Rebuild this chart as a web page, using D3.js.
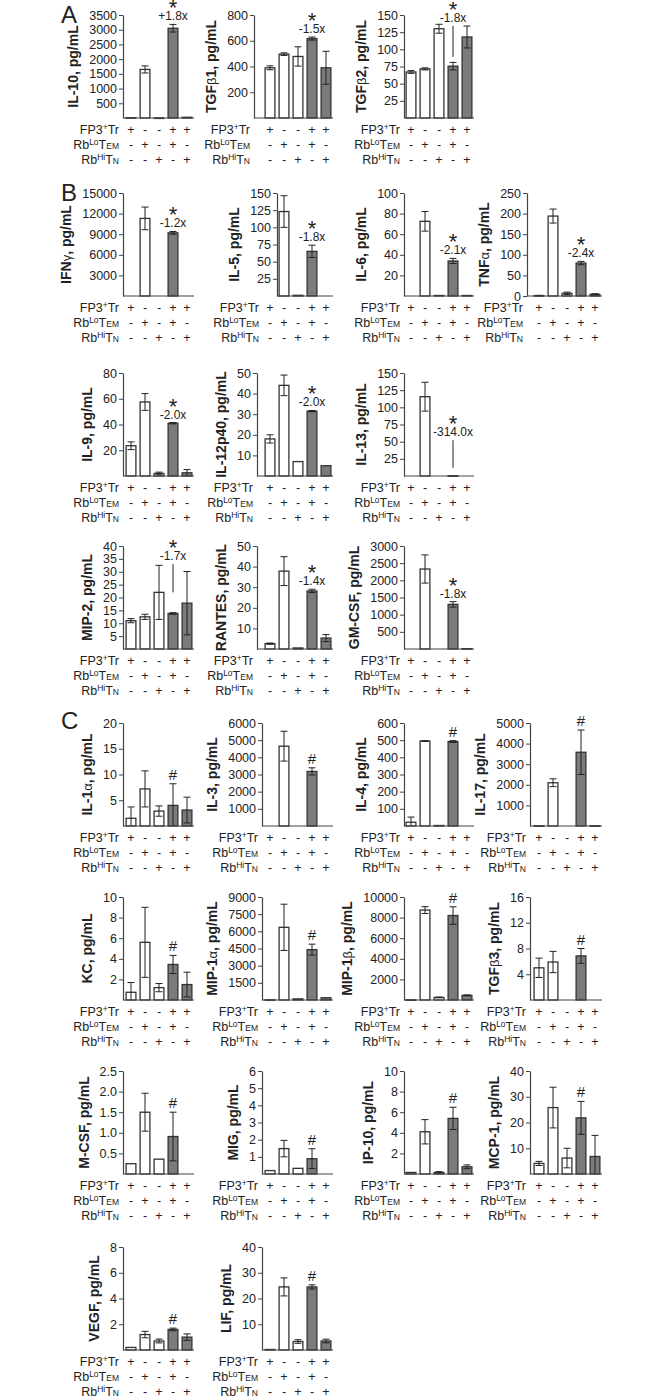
<!DOCTYPE html>
<html>
<head>
<meta charset="utf-8">
<script src="https://cdn.jsdelivr.net/npm/d3@7"></script>
<style>
  body { margin: 0; background: #fff; }
  svg { font-family: "Liberation Sans", Arial, sans-serif; }
</style>
</head>
<body>
<div id="chart"></div>
<script>
// ---- data ----
const analytes = ["IL-10", "TGFβ1", "TGFβ2",
  "IFNγ", "IL-5", "IL-6", "TNFα",
  "IL-9", "IL-12p40", "IL-13",
  "MIP-2", "RANTES", "GM-CSF",
  "IL-1α", "IL-3", "IL-4", "IL-17",
  "KC", "MIP-1α", "MIP-1β", "TGFβ3",
  "M-CSF", "MIG", "IP-10", "MCP-1",
  "VEGF", "LIF"];

const yMax = [3500, 800, 150, 15000, 150, 100, 250, 80, 50, 150, 40, 50, 3000,
  20, 6000, 600, 5000, 10, 9000, 10000, 16, 2.5, 6, 10, 40, 8, 40];

const yTicks = [
  [500, 1000, 1500, 2000, 2500, 3000, 3500],
  [200, 400, 600, 800],
  [25, 50, 75, 100, 125, 150],
  [3000, 6000, 9000, 12000, 15000],
  [25, 50, 75, 100, 125, 150],
  [20, 40, 60, 80, 100],
  [0, 50, 100, 150, 200, 250],
  [20, 40, 60, 80],
  [10, 20, 30, 40, 50],
  [25, 50, 75, 100, 125, 150],
  [5, 10, 15, 20, 25, 30, 35, 40],
  [10, 20, 30, 40, 50],
  [500, 1000, 1500, 2000, 2500, 3000],
  [5, 10, 15, 20],
  [1000, 2000, 3000, 4000, 5000, 6000],
  [100, 200, 300, 400, 500, 600],
  [1000, 2000, 3000, 4000, 5000],
  [2, 4, 6, 8, 10],
  [1500, 3000, 4500, 6000, 7500, 9000],
  [2000, 4000, 6000, 8000, 10000],
  [4, 8, 12, 16],
  [0.5, 1, 1.5, 2, 2.5],
  [1, 2, 3, 4, 5, 6],
  [2, 4, 6, 8, 10],
  [10, 20, 30, 40],
  [2, 4, 6, 8],
  [10, 20, 30, 40]
];

// five groups per panel
const means = [
  [10, 1650, 2, 3050, 25],
  [390, 496, 478, 617, 390],
  [67, 71.5, 130, 75.5, 118],
  [0, 11300, 0, 9200, 0],
  [0, 123, 1, 65, 0],
  [0, 72.5, 0.5, 34, 0.5],
  [1, 194, 6.5, 80, 4],
  [23.5, 57.5, 2, 41, 2.5],
  [18, 44, 7, 31.5, 5],
  [0, 115.5, 0, 0.37, 0],
  [11, 12.5, 22, 13.8, 17.8],
  [2.6, 37.8, 0.5, 28.2, 5.3],
  [0, 2330, 0, 1300, 10],
  [1.5, 7.2, 2.9, 4, 3.1],
  [0, 4650, 0, 3180, 0],
  [22, 495, 3, 492, 0],
  [10, 2100, 0, 3580, 10],
  [0.75, 5.6, 1.2, 3.45, 1.5],
  [20, 6350, 100, 4400, 200],
  [20, 8730, 250, 8200, 450],
  [5.0, 5.9, 0, 6.85, 0],
  [0.25, 1.5, 0.36, 0.91, 0],
  [0.2, 1.48, 0.33, 0.89, 0],
  [0.15, 4.1, 0.15, 5.4, 0.7],
  [4.1, 25.8, 6.2, 21.8, 6.8],
  [0.2, 1.2, 0.7, 1.6, 1.0],
  [0.2, 24.5, 3.3, 24.5, 3.5]
];

const errors = [
  [null, 120, null, 130, null],
  [15, 10, 75, 12, 128],
  [2, 1.5, 6.5, 5.5, 16],
  [null, 1650, null, 200, null],
  [null, 23, null, 9, null],
  [null, 9.5, null, 2.5, null],
  [0.5, 17, 3, 4, 1.5],
  [3, 6.5, 1, 0.5, 2.5],
  [2, 5, null, 0.3, null],
  [null, 21, null, null, null],
  [0.8, 1, 10.5, 0.3, 12.3],
  [0.3, 7, null, 0.8, 1.7],
  [null, 410, null, 80, null],
  [2.2, 3.5, 1, 4.2, 2.5],
  [null, 870, null, 210, null],
  [30, 2, null, 5, null],
  [null, 190, null, 1080, null],
  [0.95, 3.4, 0.4, 0.88, 1.2],
  [null, 2020, null, 480, null],
  [null, 330, 30, 850, 40],
  [1.5, 1.65, null, 1.15, null],
  [null, 0.46, null, 0.59, null],
  [null, 0.48, null, 0.58, null],
  [null, 1.18, 0.08, 1.08, 0.18],
  [0.8, 7.9, 3.8, 6.4, 8.2],
  [null, 0.25, 0.15, 0.1, 0.25],
  [null, 3.5, 0.7, 0.8, 0.7]
];

const signif = ["*", "*", "*", "*", "*", "*", "*", "*", "*", "*", "*", "*", "*",
  "#", "#", "#", "#", "#", "#", "#", "#", "#", "#", "#", "#", "#", "#"];
const folds = ["+1.8x", "-1.5x", "-1.8x", "-1.2x", "-1.8x", "-2.1x", "-2.4x",
  "-2.0x", "-2.0x", "-314.0x", "-1.7x", "-1.4x", "-1.8x"];
// [analyte, value where fold text sits, value where leader line ends]
const leaders = [["TGFβ2", 140, 89], ["IL-13", 58, 12], ["MIP-2", 34.5, 22]];

const conditionNames = ["FP3+Tr", "RbLoTEM", "RbHiTN"];
const conditions = [
  ["+", "-", "-", "+", "+"],
  ["-", "+", "-", "+", "-"],
  ["-", "-", "+", "-", "+"]
];
const panelLetters = [["A", 0], ["B", 1], ["C", 4]];

// ---- layout ----
const rowTop = [15, 193, 373, 546, 723, 897, 1071, 1247];
const plotH = 103;
const colStart = [124, 263, 404, 532];
const axisDefault = [123, 262, 404, 530];
const axisOverride = { "TGFβ1": 254, "IL-5": 277, "TNFα": 527, "IL-12p40": 257, "RANTES": 257 };
const gridPos = [[0, 0], [0, 1], [0, 2],
  [1, 0], [1, 1], [1, 2], [1, 3],
  [2, 0], [2, 1], [2, 2],
  [3, 0], [3, 1], [3, 2],
  [4, 0], [4, 1], [4, 2], [4, 3],
  [5, 0], [5, 1], [5, 2], [5, 3],
  [6, 0], [6, 1], [6, 2], [6, 3],
  [7, 0], [7, 1]];

const ink = "#222";
const axisColor = "#444";
const barFill = ["#fff", "#fff", "#fff", "#7b7b7b", "#7b7b7b"];

const svg = d3.select("#chart").append("svg")
  .attr("width", 663)
  .attr("height", 1400);

panelLetters.forEach(([letter, r]) => {
  svg.append("text")
    .attr("x", 61)
    .attr("y", rowTop[r] + (r === 4 ? 6 : 8))
    .attr("font-size", 24)
    .attr("fill", ink)
    .text(letter);
});

function addGreekLabel(sel, str) {
  str.split(/([αβγ])/).filter((s) => s).forEach((part) => {
    const t = sel.append("tspan").text(part);
    if (/[αβγ]/.test(part)) {
      t.attr("font-weight", "normal").attr("font-size", 13);
    }
  });
}

analytes.forEach((name, i) => {
  const [r, c] = gridPos[i];
  const top = rowTop[r];
  const base = top + plotH;
  const x0 = colStart[c];
  const ax = axisOverride[name] !== undefined ? axisOverride[name] : axisDefault[c];

  const x = d3.scaleBand()
    .domain(d3.range(5))
    .range([x0, x0 + 70])
    .paddingInner(0.3)
    .paddingOuter(0.15);
  const y = d3.scaleLinear().domain([0, yMax[i]]).range([base, top]);

  const g = svg.append("g");

  // bars
  means[i].forEach((v, j) => {
    if (v <= 0) return;
    g.append("rect")
      .attr("x", x(j))
      .attr("y", y(v))
      .attr("width", x.bandwidth())
      .attr("height", Math.max(base - y(v), 0.5))
      .attr("fill", barFill[j])
      .attr("stroke", "#333")
      .attr("stroke-width", 1.3);
  });

  // error bars
  means[i].forEach((v, j) => {
    const e = errors[i][j];
    if (e == null) return;
    const cx = x(j) + x.bandwidth() / 2;
    const lo = Math.max(0, v - e);
    const hi = v + e;
    g.append("line")
      .attr("x1", cx).attr("x2", cx)
      .attr("y1", y(lo)).attr("y2", y(hi))
      .attr("stroke", ink).attr("stroke-width", 1);
    [hi, lo].forEach((w) => {
      if (w <= 0) return;
      g.append("line")
        .attr("x1", cx - 3.5).attr("x2", cx + 3.5)
        .attr("y1", y(w)).attr("y2", y(w))
        .attr("stroke", ink).attr("stroke-width", 1);
    });
  });

  // x axis line
  g.append("line")
    .attr("x1", ax).attr("x2", x0 + 70)
    .attr("y1", base).attr("y2", base)
    .attr("stroke", axisColor).attr("stroke-width", 1.2);

  // y axis
  const decimal = yTicks[i].some((t) => !Number.isInteger(t));
  const yAxis = d3.axisLeft(y)
    .tickValues(yTicks[i])
    .tickSize(4)
    .tickSizeOuter(0)
    .tickPadding(2)
    .tickFormat(decimal ? d3.format(".1f") : d3.format("d"));
  const ya = g.append("g")
    .attr("transform", `translate(${ax},0)`)
    .call(yAxis);
  ya.select(".domain").attr("stroke", axisColor).attr("stroke-width", 1.2);
  ya.selectAll(".tick line").attr("stroke", axisColor);
  ya.selectAll(".tick text")
    .attr("font-size", 12.5)
    .attr("font-family", "Liberation Sans, Arial, sans-serif")
    .attr("fill", ink);

  let maxW = 0;
  ya.selectAll(".tick text").each(function () {
    maxW = Math.max(maxW, this.getBBox().width);
  });

  // y axis title
  const lx = ax - 6 - maxW - 11;
  const ly = (top + base) / 2;
  const title = g.append("text")
    .attr("transform", `translate(${lx},${ly}) rotate(-90)`)
    .attr("text-anchor", "middle")
    .attr("font-size", 14)
    .attr("font-weight", "bold")
    .attr("fill", ink);
  addGreekLabel(title, name);
  title.append("tspan").text(", pg/mL");

  // condition table
  const labelRight = Math.min(ax, x0) - 4;
  conditionNames.forEach((cn, k) => {
    const ty = base + 16 + k * 15;
    const lab = g.append("text")
      .attr("x", labelRight)
      .attr("y", ty)
      .attr("text-anchor", "end")
      .attr("font-size", 12.5)
      .attr("fill", ink);
    if (k === 0) {
      lab.append("tspan").text("FP3");
      lab.append("tspan").attr("dy", -4.5).attr("font-size", 8.5).text("+");
      lab.append("tspan").attr("dy", 4.5).text("Tr");
    } else {
      const sup = k === 1 ? "Lo" : "Hi";
      const sub = k === 1 ? "EM" : "N";
      lab.append("tspan").text("Rb");
      lab.append("tspan").attr("dy", -4.5).attr("font-size", 8.5).text(sup);
      lab.append("tspan").attr("dy", 4.5).text("T");
      lab.append("tspan").attr("font-size", 8.5).text(sub);
    }
    conditions[k].forEach((s, j) => {
      g.append("text")
        .attr("x", x(j) + x.bandwidth() / 2)
        .attr("y", ty)
        .attr("text-anchor", "middle")
        .attr("font-size", 12.5)
        .attr("fill", ink)
        .text(s);
    });
  });

  // significance marks above the 4th group
  const bx = x(3) + x.bandwidth() / 2;
  const topVal = means[i][3] + (errors[i][3] || 0);
  if (signif[i] === "#") {
    g.append("text")
      .attr("x", bx)
      .attr("y", y(topVal) - 4)
      .attr("text-anchor", "middle")
      .attr("font-size", 15)
      .attr("fill", ink)
      .text("#");
  } else {
    const lead = leaders.find((l) => l[0] === name);
    let foldBase;
    if (lead) {
      foldBase = y(lead[1]);
      g.append("line")
        .attr("x1", bx).attr("x2", bx)
        .attr("y1", foldBase + 4).attr("y2", y(lead[2]))
        .attr("stroke", ink).attr("stroke-width", 1);
    } else {
      foldBase = y(topVal) - 4;
    }
    // star and fold change as one two-line text
    const note = g.append("text")
      .attr("text-anchor", "middle")
      .attr("fill", ink);
    note.append("tspan")
      .attr("x", bx)
      .attr("y", foldBase - 5)
      .attr("font-size", 22)
      .text("*");
    note.append("tspan")
      .attr("x", bx)
      .attr("y", foldBase)
      .attr("font-size", 12)
      .text(folds[i]);
  }
});
</script>
</body>
</html>
